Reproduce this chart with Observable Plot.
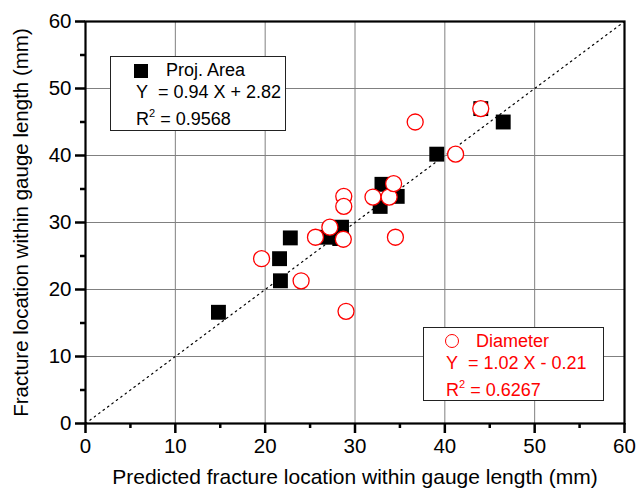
<!DOCTYPE html>
<html>
<head>
<meta charset="utf-8">
<script src="https://cdn.jsdelivr.net/npm/d3@7"></script>
<script src="https://cdn.jsdelivr.net/npm/@observablehq/plot@0.6"></script>
<style>
  body { margin: 0; background: #fff; }
  #wrap { position: relative; width: 637px; height: 490px; font-family: "Liberation Sans", Arial, sans-serif; }
  .leg { position: absolute; background: #fff; border: 1.5px solid #222; box-sizing: border-box; }
  .leg div { position: absolute; white-space: nowrap; font-size: 18px; line-height: 1; }
  .leg sup { font-size: 11px; vertical-align: 8px; }
</style>
</head>
<body>
<div id="wrap"></div>
<script>
// Projected-area predictions (x) vs. measured fracture location (y)
const projX = [14.8, 21.7, 21.6, 22.8, 26.8, 28.5, 28.3, 33.0, 32.8, 34.7, 39.1, 46.5, 44.0];
const projY = [16.6, 21.3, 24.6, 27.7, 27.8, 29.3, 27.6, 35.7, 32.4, 33.9, 40.2, 45.0, 47.0];
// Diameter predictions (x) vs. measured fracture location (y)
const diamX = [19.6, 24.0, 29.0, 25.6, 27.2, 28.7, 28.75, 28.75, 32.0, 33.8, 34.3, 34.5, 36.7, 41.2, 44.0];
const diamY = [24.6, 21.3, 16.75, 27.8, 29.3, 27.5, 33.9, 32.4, 33.8, 33.8, 35.8, 27.8, 45.0, 40.2, 47.0];
const majorTicks = [0, 10, 20, 30, 40, 50, 60];
const minorTicks = [5, 15, 25, 35, 45, 55];
const gridTicks = [10, 20, 30, 40, 50];
const diagonal = [0, 60];

const proj = projX.map((x, i) => ({x, y: projY[i]}));
const diam = diamX.map((x, i) => ({x, y: diamY[i]}));

const chart = Plot.plot({
  width: 637,
  height: 490,
  marginLeft: 85,
  marginRight: 13,
  marginTop: 21,
  marginBottom: 67,
  style: {fontFamily: '"Liberation Sans", Arial, sans-serif', background: "#fff"},
  x: {domain: [0, 60]},
  y: {domain: [0, 60]},
  marks: [
    Plot.gridX(gridTicks, {stroke: "#808080", strokeOpacity: 1, strokeWidth: 1}),
    Plot.gridY(gridTicks, {stroke: "#808080", strokeOpacity: 1, strokeWidth: 1}),
    Plot.line(diagonal, {x: d => d, y: d => d, stroke: "#000", strokeWidth: 1.2, strokeDasharray: "1.5,4"}),
    Plot.dot(proj, {x: "x", y: "y", symbol: "square", r: 8.4, fill: "#000"}),
    Plot.dot(diam, {x: "x", y: "y", symbol: "circle", r: 8, fill: "#fff", stroke: "#ff0000", strokeWidth: 1.3}),
    Plot.frame({stroke: "#000", strokeWidth: 2.2}),
    Plot.axisX(majorTicks, {tickSize: 10, tickPadding: 5, strokeWidth: 2.5, fontSize: 20.5, fill: "#000", label: null}),
    Plot.axisX([], {tickSize: 0, fontSize: 21, fill: "#000",
      label: "Predicted fracture location within gauge length (mm)", labelAnchor: "center", labelArrow: "none", labelOffset: 60}),
    Plot.axisX(minorTicks, {tickSize: 5, strokeWidth: 2.5, text: null, label: null}),
    Plot.axisY(majorTicks, {tickSize: 10, tickPadding: 4, strokeWidth: 2.5, fontSize: 20.5, fill: "#000", label: null}),
    Plot.axisY([], {tickSize: 0, fontSize: 20.5, fill: "#000",
      label: "Fracture location within gauge length (mm)", labelAnchor: "center", labelArrow: "none", labelOffset: 72}),
    Plot.axisY(minorTicks, {tickSize: 5, strokeWidth: 2.5, text: null, label: null})
  ]
});

const wrap = document.getElementById("wrap");
wrap.appendChild(chart);

function legend(box, color, symbolHtml, name, eq, r2, dx) {
  const d = document.createElement("div");
  d.className = "leg";
  Object.assign(d.style, {left: box[0] + "px", top: box[1] + "px", width: box[2] + "px", height: box[3] + "px", color});
  d.innerHTML = symbolHtml +
    `<div style="left:${54 + dx}px;top:3.5px">${name}</div>` +
    `<div style="left:${24 + dx}px;top:26px">${eq}</div>` +
    `<div style="left:${24 + dx}px;top:50.5px">R<sup>2</sup> = ${r2}</div>`;
  wrap.appendChild(d);
}
legend([110, 56, 176, 75], "#000",
  `<div style="left:23px;top:7px;width:14px;height:14px;background:#000"></div>`,
  "Proj. Area", "Y&nbsp; = 0.94 X + 2.82", "0.9568", 1);
legend([423, 327, 181, 74], "#ff0000",
  `<div style="left:21px;top:5.5px;width:14px;height:14px;border:1.3px solid #ff0000;border-radius:50%;box-sizing:border-box"></div>`,
  "Diameter", "Y&nbsp; = 1.02 X - 0.21", "0.6267", -2);
</script>
</body>
</html>
